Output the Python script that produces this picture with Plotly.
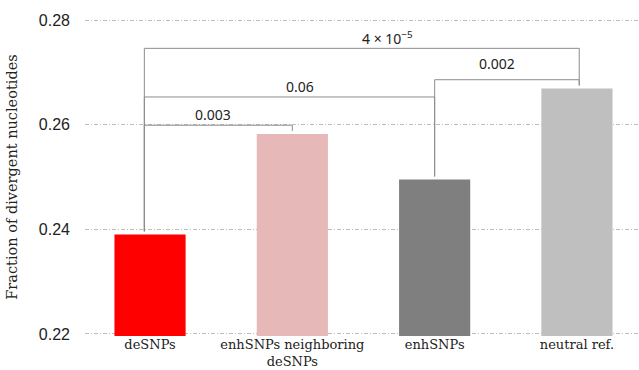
import plotly.graph_objects as go

categories = ["deSNPs", "enhSNPs neighboring<br>deSNPs", "enhSNPs", "neutral ref."]
values = [0.2390, 0.2582, 0.2495, 0.2669]
bar_colors = ["#ff0000", "#e6b8b7", "#7f7f7f", "#bfbfbf"]

# comparisons: (left index, right index, bracket height, p-value label)
comparisons = [
    (0, 1, 0.2599, "0.003"),
    (0, 2, 0.2653, "0.06"),
    (2, 3, 0.2686, "0.002"),
    (0, 3, 0.2746, "4 × 10<sup>−5</sup>"),
]
x_pos = [-0.04, 0.0, 0.0, 0.016]      # bracket anchor offset per category
label_x = [0.443, 1.054, 2.44, 1.672]  # label placement (style)
label_shift = [-1, -1, 5, -2]
gap = 0.0006

y_ticks = [0.22, 0.24, 0.26, 0.28]

xs = list(range(len(categories)))
fig = go.Figure()
fig.add_trace(go.Bar(
    x=xs, y=values, marker=dict(color=bar_colors, line=dict(width=0)),
    width=0.5, base=0, showlegend=False,
))

line_col = "#8c8c8c"
for i, (a, b, h, lab) in enumerate(comparisons):
    xa = a + x_pos[a]
    xb = b + x_pos[b]
    fig.add_shape(type="line", x0=xa, x1=xb, y0=h, y1=h,
                  line=dict(color=line_col, width=1), layer="above")
    fig.add_shape(type="line", x0=xa, x1=xa, y0=h, y1=values[a] + gap,
                  line=dict(color=line_col, width=1), layer="above")
    fig.add_shape(type="line", x0=xb, x1=xb, y0=h, y1=values[b] + gap,
                  line=dict(color=line_col, width=1), layer="above")
    fig.add_annotation(x=label_x[i], y=h, text=lab, showarrow=False,
                       yanchor="bottom", yshift=label_shift[i],
                       font=dict(family="Noto Sans", size=14, color="#222222"))

fig.update_layout(
    width=639, height=370,
    margin=dict(l=85, r=0, t=18, b=34),
    paper_bgcolor="white", plot_bgcolor="white",
    xaxis=dict(
        tickmode="array", tickvals=xs, ticktext=categories,
        range=[-0.457, 3.436], showgrid=False, zeroline=False, showline=False,
        tickfont=dict(family="DejaVu Serif", size=13, color="#222222"),
        ticks="", automargin=False, ticklabelstandoff=-1,
    ),
    yaxis=dict(
        range=[0.2196, 0.2804], tickvals=y_ticks, ticktext=[f"{v:.2f}" for v in y_ticks],
        showgrid=True, gridcolor="#bdbdbd", griddash="4px,2px,1px,2px", gridwidth=1,
        zeroline=False, showline=False,
        tickfont=dict(family="Liberation Sans", size=16, color="#222222"),
        ticklabelstandoff=14, automargin=False,
        title=dict(text="Fraction of divergent nucleotides", standoff=17,
                   font=dict(family="DejaVu Serif", size=14.5, color="#222222")),
    ),
)

fig.write_html("out.html", config={"displayModeBar": False},
               post_script="document.body.style.margin='0';document.body.style.overflow='hidden';")
